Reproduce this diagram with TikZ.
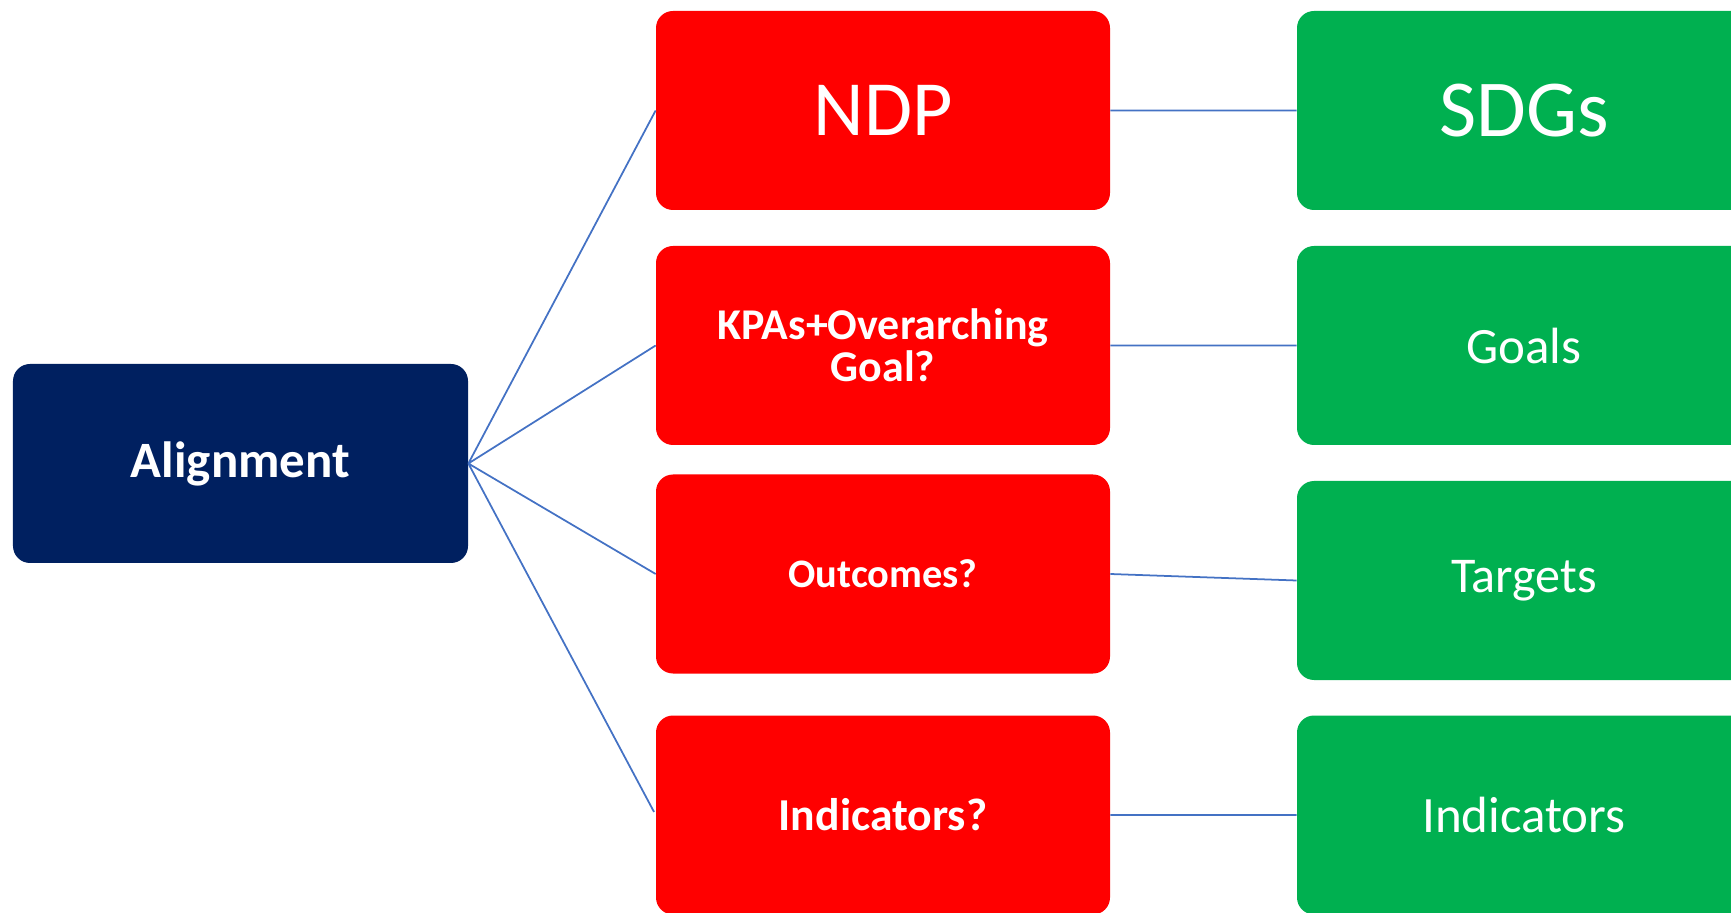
\documentclass[tikz,border=0pt]{standalone}
\usepackage{fontspec}
\setmainfont{Carlito}
\usepackage{xcolor}

\definecolor{navybox}{HTML}{002060}
\definecolor{redbox}{HTML}{FF0000}
\definecolor{greenbox}{HTML}{00B050}
\definecolor{linkblue}{HTML}{4472C4}

\begin{document}
\begin{tikzpicture}[
    box/.style={rectangle,rounded corners=0.34cm,text=white,inner sep=0pt,
                minimum width=9.08cm,minimum height=3.98cm,align=center},
    navy/.style={box,fill=navybox,minimum width=9.1cm},
    ndp/.style={box,fill=redbox},
    sdg/.style={box,fill=greenbox},
    link/.style={draw=linkblue,line width=1pt}
  ]
            \clip (0,0) rectangle (34.62,18.24);

            \node (align) at (4.81,8.97) [navy,font=\fontsize{29}{32}\selectfont\bfseries] {Alignment};

            \node (ndp) at (17.66,16.03) [ndp,font=\fontsize{44.5}{50}\selectfont] {NDP};
            \node (kpa) at (17.66,11.33) [ndp,font=\fontsize{25}{24}\selectfont\bfseries] {KPAs+Overarching\\Goal?};
            \node (out) at (17.66,6.76) [ndp,font=\fontsize{23}{26}\selectfont\bfseries] {Outcomes?};
            \node (ind) at (17.66,1.94) [ndp,font=\fontsize{26}{28}\selectfont\bfseries] {Indicators?};

            \node (sdgs) at (30.48,16.03) [sdg,font=\fontsize{46}{50}\selectfont] {SDGs};
            \node (goals) at (30.48,11.33) [sdg,font=\fontsize{29}{32}\selectfont] {Goals};
            \node (targ) at (30.48,6.63) [sdg,font=\fontsize{28.5}{32}\selectfont] {Targets};
            \node (sind) at (30.48,1.94) [sdg,font=\fontsize{29}{32}\selectfont] {Indicators};

            \draw[link,shorten >=2pt] (align.east) -- (ndp.west) (align.east) -- (kpa.west)
                (align.east) -- (out.west) (align.east) -- (ind.west);
            \draw[link] (ndp.east) -- (sdgs.west) (kpa.east) -- (goals.west)
                (out.east) -- (targ.west) (ind.east) -- (sind.west);

        \end{tikzpicture}
\end{document}
